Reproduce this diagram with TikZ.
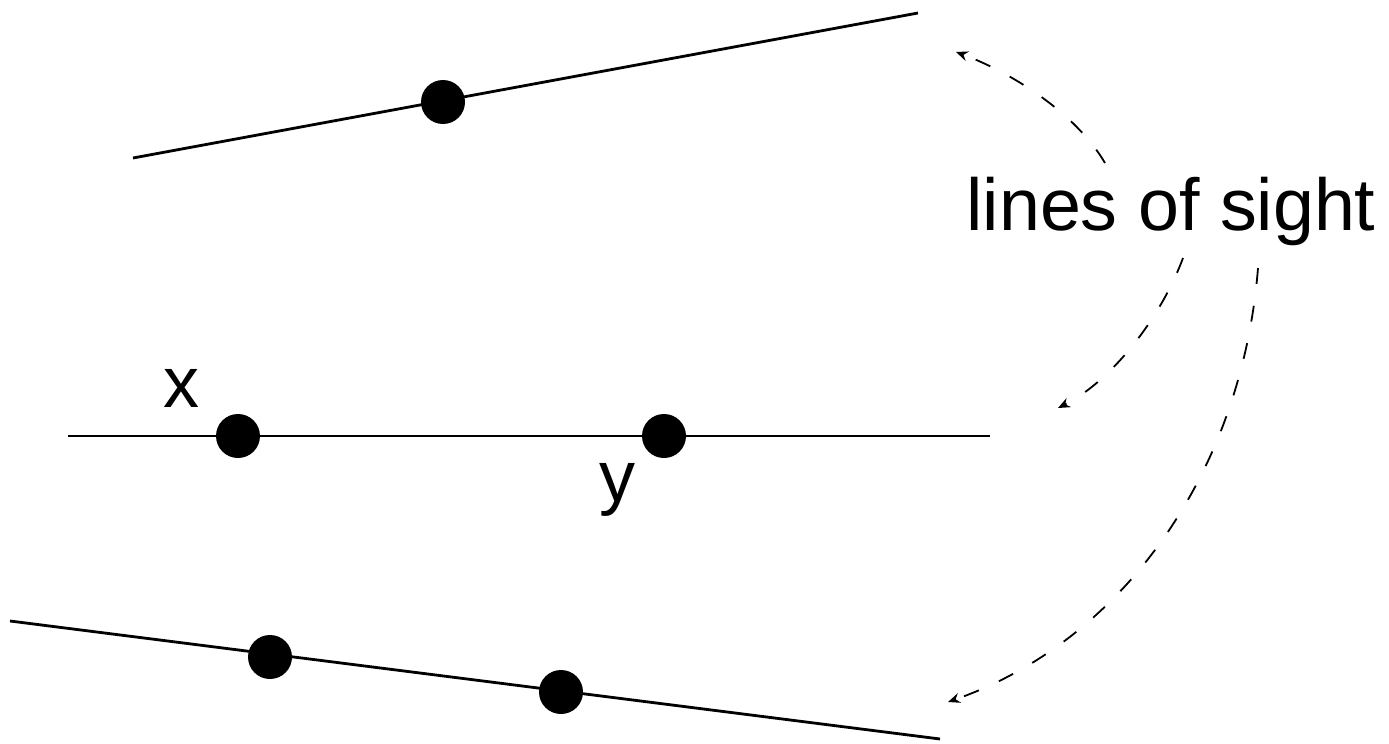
\documentclass[tikz,border=0pt]{standalone}
\usepackage{fontspec}
\setmainfont{Liberation Sans}
\usetikzlibrary{arrows.meta}
\begin{document}
\begin{tikzpicture}[x=0.5pt,y=-0.5pt,
  sightline/.style={line width=1.4pt},
  pt/.style={circle,fill=black,inner sep=0pt,minimum size=22pt},
  lbl/.style={font=\fontsize{36}{40}\selectfont,inner sep=0pt},
  biglbl/.style={font=\fontsize{36.8}{40}\selectfont,inner sep=0pt},
  sightarrow/.style={line width=0.9pt,dash pattern=on 8pt off 11pt,-{Stealth[length=6pt,width=5pt]}}]
\useasboundingbox (0,0) rectangle (1389,744);
% lines
\coordinate (t1) at (133,158);
\coordinate (t2) at (918,13);
\coordinate (m1) at (68,436);
\coordinate (m2) at (990,436);
\coordinate (b1) at (10,621);
\coordinate (b2) at (940,739);
\draw[sightline] (t1) -- (t2);
\draw[sightline] (m1) -- (m2);
\draw[sightline] (b1) -- (b2);
% dots
\node[pt] (p1) at (443,102) {};
\node[pt] (px) at (238,436) {};
\node[pt] (py) at (664,436) {};
\node[pt] (p3) at (270,657) {};
\node[pt] (p4) at (561,692) {};
\node[lbl] (lx) at (181,388) {x};
\node[lbl] (ly) at (617,490) {y};
\node[biglbl] (los) at (1171,211) {lines of sight};
% arrows
\coordinate (a1s) at (1105,163);
\coordinate (a1e) at (956,52);
\coordinate (a2s) at (1183,258);
\coordinate (a2e) at (1058,408);
\coordinate (a3s) at (1258,268);
\coordinate (a3e) at (948,702);
\draw[sightarrow] (a1s) .. controls (1075,112) and (1010,72) .. (a1e);
\draw[sightarrow] (a2s) .. controls (1160,320) and (1110,382) .. (a2e);
\draw[sightarrow] (a3s) .. controls (1242,470) and (1125,640) .. (a3e);
\end{tikzpicture}
\end{document}
